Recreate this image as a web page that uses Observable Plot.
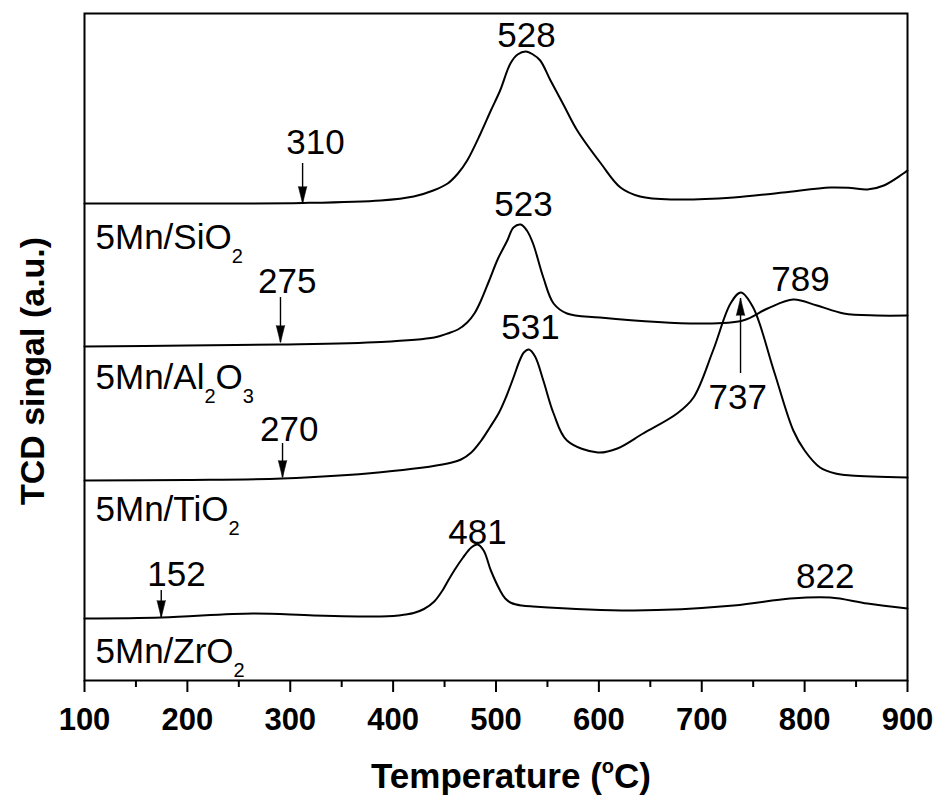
<!DOCTYPE html>
<html><head><meta charset="utf-8">
<script src="https://cdn.jsdelivr.net/npm/d3@7"></script>
<script src="https://cdn.jsdelivr.net/npm/@observablehq/plot@0.6"></script>
<style>
body{margin:0;background:#fff;}
#chart svg{display:block;}
</style></head><body><div id="chart"></div>
<script>
// ---- data (temperature in °C, TCD signal in a.u., curves already stacked) ----
const samples = ["5Mn/SiO_2", "5Mn/Al_2O_3", "5Mn/TiO_2", "5Mn/ZrO_2"];

const sio2T = [100,200,312,388,420,439,453,463,472,485,495,504,514,521,529,536,543,553,566,579,602,621,640,673,731,779,825,845,861,877,900];
const sio2S = [477,477,477.5,480,484,490,497,507,520,547,570,590,617,626,629,626,620,600,575,550,517,493,484,481,483,488,493,492.5,491,495,510];

const al2o3T = [100,200,290,388,440,453,463,472,479,485,493,502,511,517,524,530,536,546,556,569,601,699,740,764,789,812,838,870,900];
const al2o3S = [334,335,336,338.5,343,347,351,358,367,379,399,422,440,453,456,450,437,403,377,367,363,357,360,372,381,375,367,365,365];

const tio2T = [100,200,292,388,453,466,476,485,494,503,510,517,523,527,532,538,546,556,569,599,618,643,676,692,711,728,738,750,770,789,800,815,830,845,900];
const tio2S = [200,200.5,202,208.3,217,221,228,239,253,268,284,303,320,328,331,324,300,267,240,228,232,247,267,283,330,377,388,373,310,250,230,213,207,205,203];

const zro2T = [100,175,264,323,388,400,412,420,430,440,448,453,460,468,476,482,488,495,504,509,515,525,536,634,731,786,825,861,900];
const zro2S = [62,63,67,65,64,64.5,66,67.5,71.5,79,90,99,111,123,133,136,130,110,90,82,77.5,75,74,70,75,82,83,77,72];

// peak annotations
const peakLabels = ["528","310","523","275","789","531","737","270","481","152","822"];
const peakLabelT = [529.7,324.6,526.8,297,796,533.6,735,299,482,189.4,820];
const peakLabelS = [634,527,465,388,390,342,272,240,137,95,93];

// arrows: x position, start (tail) signal, tip signal
const arrowT    = [312,290.5,292.5,174.6,737.7];
const arrowTail = [517,383,237,90,307];
const arrowTip  = [477,338,203,63,382];

// sample name labels
const sampleLabelT = [110.7,110.7,110.7,110.7];
const sampleLabelS = [432,292,160,18];

const xMajorTicks = [100,200,300,400,500,600,700,800,900];
const xMinorTicks = [150,250,350,450,550,650,750,850];

// ---- build tables ----
const series = [[sio2T,sio2S],[al2o3T,al2o3S],[tio2T,tio2S],[zro2T,zro2S]];
const rows = series.flatMap(([T,S],k)=>T.map((t,i)=>({sample:samples[k], T:t, s:S[i]})));
const peakIdx = d3.range(peakLabels.length);
const arrowIdx = d3.range(arrowT.length);
const sampleIdx = d3.range(samples.length);

const fam = "'Liberation Sans', Arial, Helvetica, sans-serif";

const plot = Plot.plot({
  width: 940,
  height: 795,
  marginLeft: 84,
  marginRight: 33,
  marginTop: 13,
  marginBottom: 115,
  style: {fontFamily: fam, background: "#fff", color: "#000", overflow: "visible"},
  x: {domain: [100, 900]},
  y: {domain: [0, 667], axis: null},
  marks: [
    Plot.line(rows, {x: "T", y: "s", z: "sample", curve: "catmull-rom", stroke: "#000", strokeWidth: 2}),
    Plot.ruleX(arrowIdx, {x: i => arrowT[i], y1: i => arrowTail[i], y2: i => arrowTip[i], stroke: "#000", strokeWidth: 1.4}),
    Plot.vector(arrowIdx, {x: i => arrowT[i], y: i => arrowTip[i], length: 17, r: 4.2, shape: "spike", anchor: "end",
      rotate: i => arrowTip[i] > arrowTail[i] ? 0 : 180, fill: "#000", stroke: "#000", strokeWidth: 0.6}),
    Plot.text(peakIdx, {x: i => peakLabelT[i], y: i => peakLabelS[i], text: i => peakLabels[i],
      fontSize: 35, textAnchor: "middle", lineAnchor: "bottom", fill: "#000"}),
    Plot.text(sampleIdx, {x: i => sampleLabelT[i], y: i => sampleLabelS[i], text: i => samples[i],
      fontSize: 35, textAnchor: "start", lineAnchor: "bottom", fill: "#000"}),
    Plot.frame({stroke: "#000", strokeWidth: 2}),
    Plot.axisX({ticks: xMajorTicks, tickSize: 12, tickPadding: 15, fontSize: 31, fontWeight: "bold",
      label: null, stroke: "#000", strokeWidth: 2, tickFormat: d => String(d)}),
    Plot.axisX({ticks: xMinorTicks, tickSize: 7, label: null, stroke: "#000", strokeWidth: 2, tickFormat: () => ""}),
    Plot.text(["Temperature (^oC)"], {frameAnchor: "bottom", dx: 15, dy: 107, fontSize: 35, fontWeight: "bold",
      textAnchor: "middle", lineAnchor: "bottom", fill: "#000"}),
    Plot.text(["TCD singal (a.u.)"], {frameAnchor: "left", rotate: -90, dx: -51, dy: 24, fontSize: 34, fontWeight: "bold",
      textAnchor: "middle", lineAnchor: "middle", fill: "#000"})
  ]
});

// turn _x / ^x markers into real sub/superscript tspans
const NS = "http://www.w3.org/2000/svg";
plot.querySelectorAll("text").forEach(t => {
  const s = t.textContent;
  if (!/[_^]/.test(s)) return;
  const parts = s.match(/[_^].|[^_^]+/g);
  while (t.firstChild) t.removeChild(t.firstChild);
  let shift = 0;
  parts.forEach(p => {
    const ts = document.createElementNS(NS, "tspan");
    let target = 0, small = false;
    if (p[0] === "_") { target = 14; small = true; p = p.slice(1); }
    else if (p[0] === "^") { target = -15; small = true; p = p.slice(1); }
    const dy = target - shift; shift = target;
    if (dy) ts.setAttribute("dy", dy);
    if (small) ts.setAttribute("font-size", 20);
    ts.textContent = p;
    t.appendChild(ts);
  });
});

document.getElementById("chart").appendChild(plot);
</script>
</body></html>
